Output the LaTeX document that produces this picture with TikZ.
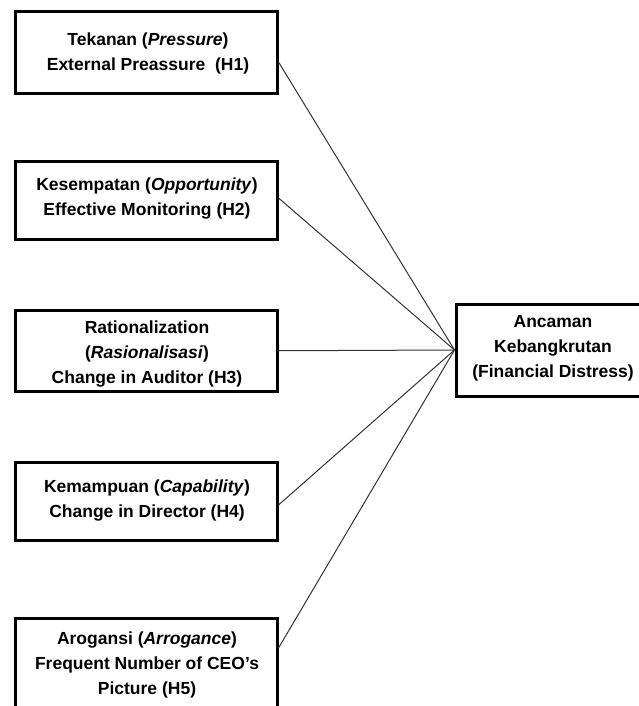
\documentclass[tikz,border=0pt]{standalone}
\usepackage{fontspec}
\setmainfont{Liberation Sans}
\begin{document}
\begin{tikzpicture}[x=1pt,y=-1pt,
  box/.style={draw=black,line width=3pt,inner sep=0pt,minimum width=261.5pt},
  lbl/.style={align=center,font=\bfseries\fontsize{17.5}{25}\selectfont,inner sep=0pt,text=black},
  conn/.style={draw=black!80,line width=1pt}]
\useasboundingbox (0,0) rectangle (639,706);
\clip (0,0) rectangle (639,706);
% boxes
\node[box,minimum height=82pt] (b1) at (146.25,52.5) {};
\node[box,minimum height=78pt] (b2) at (146.25,200.5) {};
\node[box,minimum height=80.5pt] (b3) at (146.25,350.75) {};
\node[box,minimum height=78pt] (b4) at (146.25,501) {};
\node[box,minimum height=102pt] (b5) at (146.25,669) {};
\node[box,minimum height=92pt,minimum width=196pt] (b6) at (554,350) {};
% labels
\node[lbl] (t1) at (148,53) {Tekanan (\textit{Pressure})\\External Preassure \ (H1)};
\node[lbl] (t2) at (147,199) {Kesempatan (\textit{Opportunity})\\Effective Monitoring (H2)};
\begin{scope}
\clip (16,312) rectangle (277,386);
\node[lbl] (t3) at (147,354) {Rationalization\\(\textit{Rasionalisasi})\\Change in Auditor (H3)};
\end{scope}
\node[lbl] (t4) at (147,501) {Kemampuan (\textit{Capability})\\Change in Director (H4)};
\node[lbl] (t5) at (147,665) {Arogansi (\textit{Arrogance})\\Frequent Number of CEO’s\\Picture (H5)};
\node[lbl] (t6) at (553,348) {Ancaman\\Kebangkrutan\\(Financial Distress)};
% connectors
\draw[conn] ([yshift=-9.5pt]b1.east) -- (b6.west);
\draw[conn] ([yshift=2.5pt]b2.east) -- (b6.west);
\draw[conn] (b3.east) -- (b6.west);
\draw[conn] ([yshift=-4pt]b4.east) -- (b6.west);
\draw[conn] ([yshift=21pt]b5.east) -- (b6.west);
\end{tikzpicture}
\end{document}
